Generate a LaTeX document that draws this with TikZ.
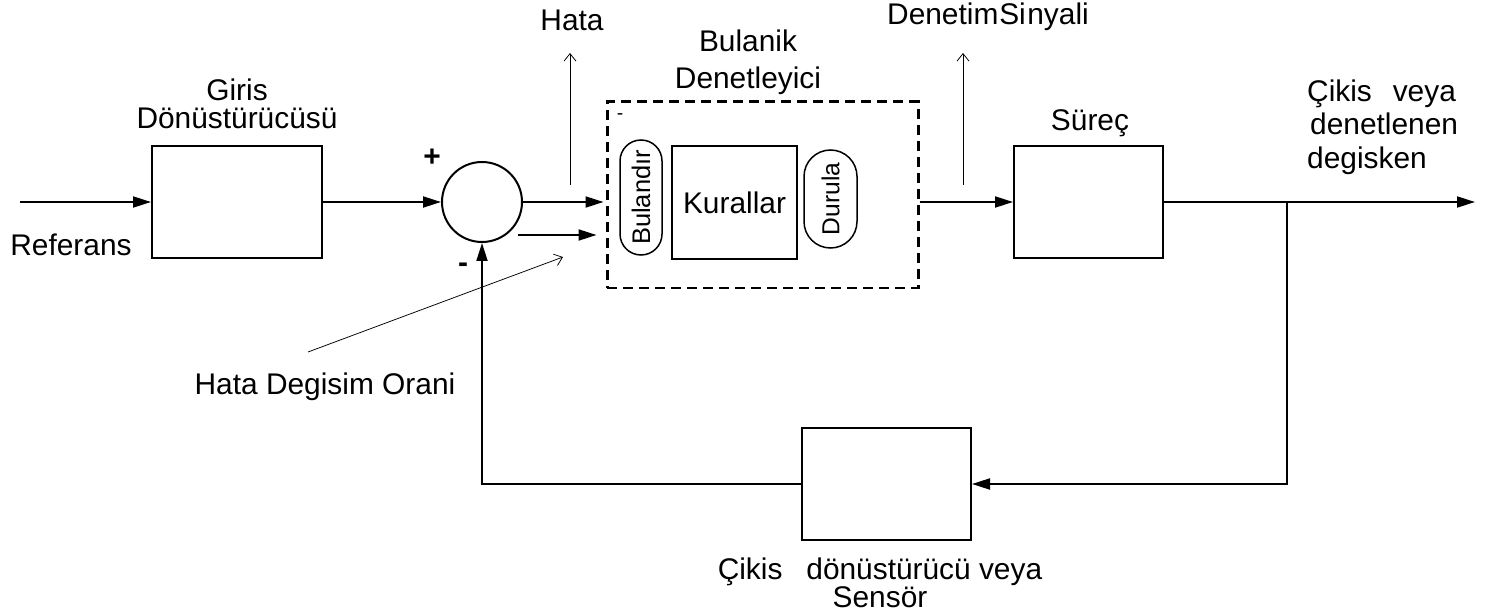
\documentclass[tikz,border=0pt]{standalone}
\usepackage{fontspec}
\setmainfont{Liberation Sans}
\usetikzlibrary{arrows.meta}

\begin{document}
\begin{tikzpicture}[
    font=\fontsize{17}{16}\selectfont,
    kutu/.style={draw,line width=0.04cm,inner sep=0pt},
    hap/.style={draw,line width=0.03cm,rotate=90,inner sep=0pt,rounded corners=#1,font=\fontsize{14.5}{16}\selectfont},
    ok/.style={line width=0.04cm,-{Triangle[length=0.36cm,width=0.22cm]}},
    ince/.style={line width=0.015cm,-{Straight Barb[length=0.15cm,width=0.24cm]}},
  ]
    \useasboundingbox (0,0) rectangle (29.9,12.26);
    % bloklar
    \node[kutu,minimum width=3.4cm,minimum height=2.24cm] (giris) at (4.74,8.22) {};
    \node[kutu,circle,minimum size=1.6cm] (top) at (9.64,8.22) {};
    \node[draw,line width=0.06cm,dash pattern=on 0.2cm off 0.12cm,minimum width=6.22cm,minimum height=3.72cm] (bd) at (15.25,8.36) {};
    \node[hap=0.42cm,minimum width=2.3cm,minimum height=0.84cm] (bulandir) at (12.82,8.31) {Bulandır};
    \node[kutu,line width=0.03cm,minimum width=2.5cm,minimum height=2.26cm] (kurallar) at (14.69,8.21) {Kurallar};
    \node[hap=0.53cm,minimum width=1.96cm,minimum height=1.06cm,font=\fontsize{14}{16}\selectfont] (durula) at (16.61,8.28) {Durula};
    \node[kutu,minimum width=2.98cm,minimum height=2.24cm] (surec) at (21.77,8.22) {};
    \node[kutu,minimum width=3.38cm,minimum height=2.24cm] (sensor) at (17.73,2.58) {};

    % serbest uclar
    \coordinate (ref) at (0.4,8.22);
    \coordinate (hdo) at (10.36,7.56);
    \coordinate (dal) at (25.74,8.22);
    \coordinate (cikis) at (29.5,8.22);
    \coordinate (h1) at (11.4,8.56);
    \coordinate (h2) at (11.4,11.2);
    \coordinate (d1) at (19.26,8.56);
    \coordinate (d2) at (19.26,11.2);
    \coordinate (o1) at (6.16,5.22);
    \coordinate (o2) at (11.26,7.12);

    % baglantilar
    \draw[ok] (ref) -- (giris.west);
    \draw[ok] (giris.east) -- (top.west);
    \draw[ok,shorten >=0.04cm] (top.east) -- (top.east -| bd.west);
    \draw[ok,shorten >=0.18cm] (hdo) -- (hdo -| bd.west);
    \draw[ok] (surec.west -| bd.east) -- (surec.west);
    \draw[ok] (surec.east) -- (cikis);
    \draw[ok] (dal) |- (sensor.east);
    \draw[ok] (sensor.west) -| (top.south);
    \draw[ince] (h1) -- (h2);
    \draw[ince] (d1) -- (d2);
    \draw[ince] (o1) -- (o2);

    % etiketler
    \node (lref) at (1.42,7.36) {Referans};
    \node[align=center] (lgiris) at (4.74,10.18) {Giris\\Dönüstürücüsü};
    \node (arti) at (8.64,9.1) {\textbf{+}};
    \node (eksi) at (9.26,6.9) {\textbf{-}};
    \node[font=\fontsize{11}{12}\selectfont] (eksi2) at (12.4,9.92) {-};
    \node (lhata) at (11.44,11.86) {Hata};
    \node[align=center] (lbd) at (14.96,11.02) {Bulanik\\[5pt]Denetleyici};
    \node (lds) at (19.76,11.92) {Denetim\hspace{0.03em}Si\hspace{0.05em}nyali};
    \node (lsurec) at (21.8,9.8) {Süreç};
    \node[anchor=west,align=left] (lcikis) at (26.02,9.72) {Çikis\hspace{0.7em}veya\\[3pt]\hspace{0.1em}denetlenen\\[3pt]degisken};
    \node (lhdo) at (6.5,4.52) {Hata Degisim Orani};
    \node[align=center] (lsensor) at (17.6,0.6) {Çikis\hspace{0.8em}dönüstürücü veya\\[0pt]Sensör};
\end{tikzpicture}
\end{document}
